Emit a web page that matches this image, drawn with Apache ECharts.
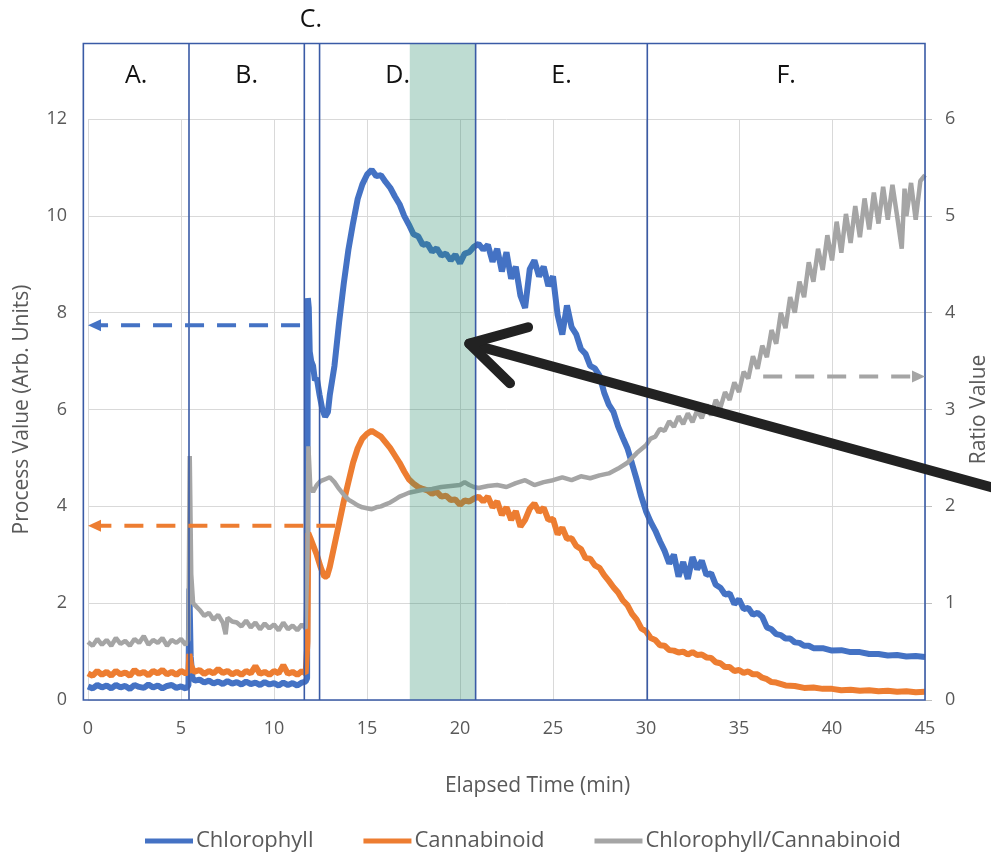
<!DOCTYPE html>
<html>
<head>
<meta charset="utf-8">
<script src="https://cdn.jsdelivr.net/npm/echarts@6/dist/echarts.min.js"></script>
<style>html,body{margin:0;padding:0;background:#fff;overflow:hidden}#c{width:991px;height:854px}</style>
</head>
<body>
<div id="c"></div>
<script>
// ---------- data ----------
const seriesNames = ['Chlorophyll', 'Cannabinoid', 'Chlorophyll/Cannabinoid'];
const xTicks = [0, 5, 10, 15, 20, 25, 30, 35, 40, 45];

// phase boundaries (min) and labels
const phaseBounds = [-0.25, 5.43, 11.63, 12.45, 20.84, 30.07, 45];
const phaseLabels = ['A.', 'B.', 'C.', 'D.', 'E.', 'F.'];
const highlightBand = [17.3, 20.84];
const frameTop = 13.56;

// dashed reference arrows: [fromT, toT, value]
const blueRef = [11.4, 0, 7.74];
const orangeRef = [13.3, 0, 3.6];
const grayRef = [36.3, 45, 3.34];
// big black arrow (data coords, left axis): tip, tail, wing1, wing2
const bigArrowTip = [20.5, 7.36];
const bigArrowTail = [48.7, 4.38];
const bigArrowWing1 = [23.66, 7.70];
const bigArrowWing2 = [22.69, 6.54];

const chlorophyll = [
[0,0.28],[0.25,0.24],[0.5,0.31],[0.75,0.26],[1,0.30],[1.25,0.24],[1.5,0.31],[1.75,0.26],[2,0.29],[2.25,0.23],
[2.5,0.31],[2.75,0.27],[3,0.25],[3.25,0.32],[3.5,0.26],[3.75,0.30],[4,0.24],[4.25,0.29],[4.5,0.31],[4.75,0.25],
[5,0.28],[5.25,0.24],[5.4,0.30],[5.45,2.3],[5.52,0.9],[5.62,0.45],[5.75,0.40],[6,0.42],[6.25,0.36],[6.5,0.40],
[6.75,0.34],[7,0.38],[7.25,0.33],[7.5,0.39],[7.75,0.34],[8,0.37],[8.25,0.32],[8.5,0.38],[8.75,0.33],[9,0.36],
[9.25,0.31],[9.5,0.37],[9.75,0.32],[10,0.35],[10.25,0.30],[10.5,0.36],[10.75,0.31],[11,0.35],[11.25,0.30],[11.5,0.36],
[11.7,0.38],[11.78,0.45],[11.82,8.3],[11.87,8.1],[11.92,7.2],[12.0,7.0],[12.1,6.9],[12.2,6.6],[12.3,6.65],[12.45,6.3],
[12.6,6.0],[12.75,5.85],[12.9,5.95],[13.0,6.3],[13.25,6.9],[13.5,7.8],[13.75,8.6],[14,9.3],[14.25,9.85],[14.5,10.35],
[14.75,10.65],[15,10.85],[15.25,10.95],[15.5,10.82],[15.75,10.84],[16,10.7],[16.25,10.58],[16.5,10.4],[16.75,10.24],[17,10.0],
[17.25,9.82],[17.5,9.62],[17.75,9.58],[18,9.4],[18.25,9.42],[18.5,9.26],[18.75,9.33],[19,9.18],[19.25,9.22],[19.5,9.08],
[19.75,9.2],[20,9.02],[20.25,9.22],[20.5,9.25],[20.75,9.36],[21,9.42],[21.25,9.3],[21.5,9.4],[21.75,9.05],[22,9.32],
[22.25,8.85],[22.5,9.25],[22.75,8.7],[23,8.95],[23.25,8.35],[23.5,8.1],[23.75,8.9],[24,9.08],[24.25,8.75],[24.5,8.95],
[24.75,8.55],[25,8.75],[25.25,7.95],[25.5,7.55],[25.75,8.15],[26,7.7],[26.25,7.55],[26.5,7.25],[26.75,7.15],[27,6.9],
[27.25,6.85],[27.5,6.7],[27.75,6.35],[28,6.1],[28.25,5.95],[28.5,5.65],[28.75,5.42],[29,5.2],[29.25,4.88],[29.5,4.55],
[29.75,4.2],[30,3.9],[30.25,3.68],[30.5,3.5],[30.75,3.28],[31,3.08],[31.25,2.82],[31.5,3.0],[31.75,2.55],[32,2.85],
[32.25,2.5],[32.5,2.95],[32.75,2.7],[33,2.88],[33.25,2.58],[33.5,2.62],[33.75,2.38],[34,2.32],[34.25,2.18],[34.5,2.2],
[34.75,1.98],[35,2.08],[35.25,1.88],[35.5,1.9],[35.75,1.76],[36,1.8],[36.25,1.72],[36.5,1.5],[36.75,1.46],[37,1.36],
[37.25,1.34],[37.5,1.27],[37.75,1.27],[38,1.19],[38.25,1.18],[38.5,1.12],[38.75,1.12],[39,1.07],[39.5,1.07],[40,1.02],
[40.5,1.03],[41,0.99],[41.5,0.99],[42,0.95],[42.5,0.95],[43,0.92],[43.5,0.93],[44,0.9],[44.5,0.91],[45,0.89]
];

const cannabinoid = [
[0,0.55],[0.25,0.50],[0.5,0.60],[0.75,0.52],[1,0.58],[1.25,0.50],[1.5,0.60],[1.75,0.53],[2,0.57],[2.25,0.50],
[2.5,0.62],[2.75,0.54],[3,0.58],[3.25,0.51],[3.5,0.60],[3.75,0.55],[4,0.62],[4.25,0.53],[4.5,0.58],[4.75,0.52],
[5,0.60],[5.25,0.55],[5.4,0.58],[5.45,0.95],[5.55,0.70],[5.7,0.58],[6,0.62],[6.25,0.54],[6.5,0.60],[6.75,0.55],
[7,0.64],[7.25,0.56],[7.5,0.60],[7.75,0.53],[8,0.58],[8.25,0.52],[8.5,0.60],[8.75,0.55],[9,0.70],[9.25,0.54],
[9.5,0.58],[9.75,0.52],[10,0.60],[10.25,0.55],[10.5,0.72],[10.75,0.54],[11,0.58],[11.25,0.52],[11.5,0.60],[11.7,0.55],
[11.8,1.2],[11.84,3.45],[11.95,3.35],[12.1,3.2],[12.3,3.0],[12.5,2.75],[12.7,2.55],[12.85,2.55],[13,2.75],[13.25,3.2],
[13.5,3.65],[13.75,4.1],[14,4.5],[14.25,4.9],[14.5,5.2],[14.75,5.4],[15,5.5],[15.25,5.56],[15.5,5.5],[15.75,5.44],
[16,5.32],[16.25,5.2],[16.5,5.05],[16.75,4.9],[17,4.72],[17.25,4.56],[17.5,4.47],[17.75,4.4],[18,4.36],[18.25,4.33],
[18.5,4.26],[18.75,4.3],[19,4.2],[19.25,4.22],[19.5,4.13],[19.75,4.14],[20,4.03],[20.25,4.12],[20.5,4.1],[20.75,4.16],
[21,4.2],[21.25,4.1],[21.5,4.2],[21.75,3.98],[22,4.1],[22.25,3.82],[22.5,3.98],[22.75,3.72],[23,3.9],[23.25,3.58],
[23.5,3.72],[23.75,3.95],[24,4.06],[24.25,3.88],[24.5,3.97],[24.75,3.72],[25,3.74],[25.25,3.42],[25.5,3.56],[25.75,3.33],
[26,3.34],[26.25,3.18],[26.5,3.12],[26.75,2.93],[27,2.92],[27.25,2.78],[27.5,2.73],[27.75,2.58],[28,2.46],[28.25,2.33],
[28.5,2.22],[28.75,2.06],[29,1.96],[29.25,1.78],[29.5,1.66],[29.75,1.48],[30,1.42],[30.25,1.28],[30.5,1.24],[30.75,1.13],
[31,1.12],[31.25,1.03],[31.5,1.02],[31.75,0.98],[32,1.0],[32.25,0.94],[32.5,0.99],[32.75,0.93],[33,0.94],[33.25,0.88],
[33.5,0.87],[33.75,0.78],[34,0.76],[34.25,0.68],[34.5,0.68],[34.75,0.6],[35,0.62],[35.25,0.56],[35.5,0.59],[35.75,0.53],
[36,0.53],[36.25,0.46],[36.5,0.43],[36.75,0.37],[37,0.36],[37.5,0.3],[38,0.29],[38.5,0.25],[39,0.26],[39.5,0.23],
[40,0.23],[40.5,0.2],[41,0.21],[41.5,0.19],[42,0.2],[42.5,0.18],[43,0.19],[43.5,0.17],[44,0.18],[44.5,0.16],[45,0.17]
];

const ratio = [
[0,0.60],[0.25,0.56],[0.5,0.63],[0.75,0.57],[1,0.62],[1.25,0.56],[1.5,0.64],[1.75,0.58],[2,0.61],[2.25,0.56],
[2.5,0.63],[2.75,0.59],[3,0.66],[3.25,0.57],[3.5,0.62],[3.75,0.59],[4,0.64],[4.25,0.56],[4.5,0.62],[4.75,0.59],
[5,0.63],[5.25,0.57],[5.4,0.62],[5.47,2.52],[5.55,1.3],[5.65,1.0],[5.8,0.97],[6,0.93],[6.25,0.87],[6.5,0.9],
[6.75,0.83],[7,0.88],[7.25,0.8],[7.4,0.68],[7.5,0.85],[7.75,0.81],[8,0.8],[8.25,0.76],[8.5,0.82],[8.75,0.75],
[9,0.8],[9.25,0.73],[9.5,0.79],[9.75,0.74],[10,0.78],[10.25,0.72],[10.5,0.8],[10.75,0.73],[11,0.77],[11.25,0.72],
[11.5,0.78],[11.7,0.74],[11.8,1.5],[11.85,2.62],[11.95,2.2],[12.1,2.15],[12.3,2.22],[12.5,2.26],[12.75,2.28],[13,2.3],
[13.25,2.25],[13.5,2.18],[13.75,2.12],[14,2.07],[14.25,2.04],[14.5,2.01],[14.75,1.99],[15,1.98],[15.25,1.97],[15.5,1.99],
[15.75,2.0],[16,2.02],[16.25,2.04],[16.5,2.07],[16.75,2.1],[17,2.12],[17.25,2.14],[17.5,2.15],[17.75,2.16],[18,2.17],
[18.5,2.18],[19,2.2],[19.5,2.21],[20,2.22],[20.25,2.25],[20.5,2.22],[20.75,2.2],[21,2.19],[21.5,2.21],[22,2.22],
[22.5,2.2],[23,2.24],[23.5,2.27],[24,2.22],[24.5,2.25],[25,2.27],[25.5,2.3],[26,2.27],[26.5,2.31],[27,2.29],
[27.5,2.32],[28,2.34],[28.5,2.39],[29,2.45],[29.5,2.55],[30,2.63],[30.25,2.7],[30.5,2.72],[30.75,2.8],[31,2.78],
[31.25,2.88],[31.5,2.82],[31.75,2.93],[32,2.85],[32.25,2.96],[32.5,2.87],[32.75,2.99],[33,2.91],[33.25,3.05],[33.5,2.94],
[33.75,3.1],[34,3.02],[34.25,3.18],[34.5,3.1],[34.75,3.28],[35,3.18],[35.25,3.39],[35.5,3.32],[35.75,3.55],[36,3.42],
[36.25,3.66],[36.5,3.54],[36.75,3.82],[37,3.68],[37.25,4.0],[37.5,3.84],[37.75,4.16],[38,4.0],[38.25,4.32],[38.5,4.16],
[38.75,4.52],[39,4.32],[39.25,4.66],[39.5,4.44],[39.75,4.8],[40,4.54],[40.25,4.94],[40.5,4.62],[40.75,5.02],[41,4.72],
[41.25,5.1],[41.5,4.78],[41.75,5.18],[42,4.86],[42.25,5.24],[42.5,4.92],[42.75,5.3],[43,4.96],[43.25,5.32],[43.5,5.0],
[43.75,4.66],[43.9,5.28],[44,5.0],[44.25,5.34],[44.5,4.96],[44.75,5.36],[45,5.42]
];

// ---------- styles ----------
const FONT = 'Open Sans';
const TXT = '#595959';
const FRAME = '#3A5BA6';
const colors = ['#4472C4', '#ED7D31', '#A5A5A5'];

const chart = echarts.init(document.getElementById('c'), null, {renderer: 'canvas'});

const option = {
  animation: false,
  backgroundColor: '#fff',
  color: colors,
  grid: {left: 88, right: 66, top: 119, bottom: 154, containLabel: false, outerBoundsMode: 'none'},
  legend: {
    left: 140, top: 825,
    icon: 'rect', itemWidth: 48, itemHeight: 5, itemGap: 50,
    textStyle: {fontFamily: FONT, fontSize: 22, color: TXT, padding: [0, 0, 0, -2]},
    data: seriesNames
  },
  xAxis: {
    type: 'value', min: 0, max: 45, interval: 5,
    name: 'Elapsed Time (min)', nameLocation: 'middle', nameGap: 76,
    nameTextStyle: {fontFamily: FONT, fontSize: 21, color: TXT, padding: [0, 0, 0, 62]},
    axisLine: {show: false}, axisTick: {show: false},
    axisLabel: {fontFamily: FONT, fontSize: 18, color: TXT, margin: 20, customValues: xTicks},
    splitLine: {show: true, lineStyle: {color: '#D9D9D9', width: 1}}
  },
  yAxis: [
    {
      type: 'value', min: 0, max: 12, interval: 2, position: 'left',
      name: 'Process Value (Arb. Units)', nameLocation: 'middle', nameGap: 55, nameRotate: 90,
      nameTextStyle: {fontFamily: FONT, fontSize: 21, color: TXT},
      axisLine: {show: false}, axisTick: {show: false},
      axisLabel: {fontFamily: FONT, fontSize: 18, color: TXT, margin: 21},
      splitLine: {show: true, lineStyle: {color: '#D9D9D9', width: 1}}
    },
    {
      type: 'value', min: 0, max: 6, interval: 1, position: 'right',
      name: 'Ratio Value', nameLocation: 'middle', nameGap: 44, nameRotate: 90,
      nameTextStyle: {fontFamily: FONT, fontSize: 21, color: TXT},
      axisLine: {show: false},
      axisTick: {show: true, length: 7, lineStyle: {color: '#BFBFBF'}},
      axisLabel: {fontFamily: FONT, fontSize: 18, color: TXT, margin: 20},
      splitLine: {show: false}
    }
  ],
  series: [
    {name: seriesNames[0], type: 'line', data: chlorophyll, yAxisIndex: 0, showSymbol: false, symbol: 'none',
     lineStyle: {width: 6, color: colors[0]}, itemStyle: {color: colors[0]}, z: 3},
    {name: seriesNames[1], type: 'line', data: cannabinoid, yAxisIndex: 0, showSymbol: false, symbol: 'none',
     lineStyle: {width: 6, color: colors[1]}, itemStyle: {color: colors[1]}, z: 3},
    {name: seriesNames[2], type: 'line', data: ratio, yAxisIndex: 1, showSymbol: false, symbol: 'none',
     lineStyle: {width: 4.5, color: colors[2]}, itemStyle: {color: colors[2]}, z: 3}
  ]
};
chart.setOption(option);

// ---------- annotations computed through the chart's own scales ----------
const L = (t, v) => chart.convertToPixel({seriesIndex: 0}, [t, v]);
const R = (t, v) => chart.convertToPixel({seriesIndex: 2}, [t, v]);
const g = [];

// highlighted window
{
  const a = L(highlightBand[0], frameTop), b = L(highlightBand[1], 0);
  g.push({type: 'rect', z: 20, shape: {x: a[0], y: a[1], width: b[0] - a[0], height: b[1] - a[1]},
          style: {fill: 'rgba(40,140,105,0.3)'}});
}
// frame + phase boundaries
{
  const a = L(phaseBounds[0], frameTop), b = L(phaseBounds[phaseBounds.length - 1], 0);
  g.push({type: 'rect', z: 21, shape: {x: a[0], y: a[1], width: b[0] - a[0], height: b[1] - a[1]},
          style: {fill: null, stroke: FRAME, lineWidth: 1.6}});
  for (let i = 1; i < phaseBounds.length - 1; i++) {
    const p = L(phaseBounds[i], frameTop), q = L(phaseBounds[i], 0);
    g.push({type: 'line', z: 21, shape: {x1: p[0], y1: p[1], x2: q[0], y2: q[1]},
            style: {stroke: FRAME, lineWidth: 1.6}});
  }
  for (let i = 0; i < phaseLabels.length; i++) {
    const lo = L(phaseBounds[i], 12.9), hi = L(phaseBounds[i + 1], 12.9);
    let cx = (lo[0] + hi[0]) / 2, cy = lo[1];
    if (phaseLabels[i] === 'C.') { cy = L(0, 14.05)[1]; cx = cx - 1; }
    g.push({type: 'text', z: 22, x: cx, y: cy,
            style: {text: phaseLabels[i], fill: '#111', font: '25px "' + FONT + '"', align: 'center', verticalAlign: 'middle'}});
  }
}
// dashed reference arrows
function dashedArrow(conv, ref, color) {
  const s = conv(ref[0], ref[2]), e = conv(ref[1], ref[2]);
  const dir = Math.sign(e[0] - s[0]);
  const headLen = 13, headHalf = 6;
  g.push({type: 'line', z: 22, shape: {x1: s[0], y1: s[1], x2: e[0] - dir * headLen, y2: e[1]},
          style: {stroke: color, lineWidth: 4, lineDash: [19, 13]}});
  g.push({type: 'polygon', z: 22, shape: {points: [[e[0], e[1]], [e[0] - dir * headLen, e[1] - headHalf], [e[0] - dir * headLen, e[1] + headHalf]]},
          style: {fill: color}});
}
dashedArrow(L, blueRef, colors[0]);
dashedArrow(L, orangeRef, colors[1]);
dashedArrow(R, grayRef, colors[2]);

// big black arrow
{
  const tip = L(bigArrowTip[0], bigArrowTip[1]), tail = L(bigArrowTail[0], bigArrowTail[1]);
  const w1 = L(bigArrowWing1[0], bigArrowWing1[1]), w2 = L(bigArrowWing2[0], bigArrowWing2[1]);
  g.push({type: 'line', z: 30, shape: {x1: tail[0], y1: tail[1], x2: tip[0], y2: tip[1]},
          style: {stroke: '#222', lineWidth: 10, lineCap: 'round'}});
  g.push({type: 'polyline', z: 30, shape: {points: [w1, tip, w2]},
          style: {stroke: '#222', lineWidth: 10, lineCap: 'round', lineJoin: 'round', fill: null}});
}

chart.setOption({graphic: {elements: g}});
</script>
</body>
</html>
